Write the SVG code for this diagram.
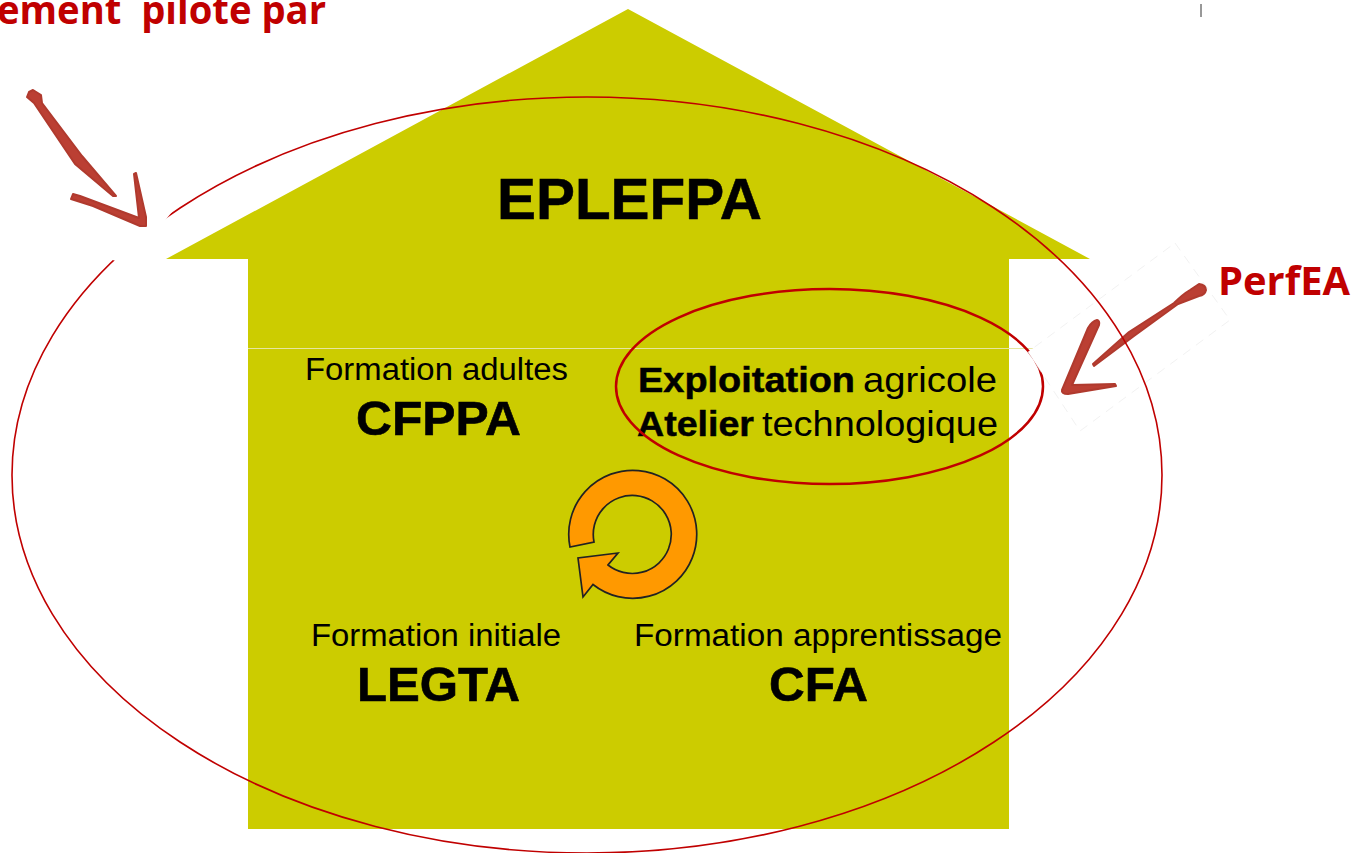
<svg xmlns="http://www.w3.org/2000/svg" width="1353" height="853" viewBox="0 0 1353 853">
<style>
.h{font-family:"Liberation Sans",Arial,sans-serif;fill:#000}
.b{font-weight:700;stroke:#000;stroke-width:.5}
.big{font-size:49px;font-weight:700;stroke:#000;stroke-width:.6}
.sm{font-size:31px}
.red{font-family:"Open Sans","Liberation Sans",sans-serif;font-weight:700;fill:#c00000;font-size:40px}
.ring{fill:none;stroke:#c00000}
.arrow{fill:#bb3f33;stroke:#b03a2e;stroke-width:2;stroke-linejoin:round}
.patch{fill:#fff;stroke:#e4e4e4;stroke-width:1;stroke-dasharray:9 7;stroke-opacity:.5}
</style>
<rect width="1353" height="853" fill="#fff"/>
<g id="house">
<path d="M628 9L1090 259H1009V829H248V259H166Z" fill="#cccc00"/>
<path d="M248 348.500H1040" stroke="#e6e6a0" stroke-width="1"/>
<text class="h b" x="497" y="219" font-size="57" textLength="265" lengthAdjust="spacingAndGlyphs">EPLEFPA</text>
</g>
<g id="cfppa">
<text class="h sm" x="305" y="380" textLength="263" lengthAdjust="spacingAndGlyphs">Formation adultes</text>
<text class="h big" x="356" y="435" textLength="165" lengthAdjust="spacingAndGlyphs">CFPPA</text>
</g>
<g id="exploitation">
<text class="h b" x="638" y="392" font-size="35" textLength="217" lengthAdjust="spacingAndGlyphs">Exploitation</text>
<text class="h" x="863" y="392" font-size="35" textLength="134" lengthAdjust="spacingAndGlyphs">agricole</text>
<text class="h b" x="637" y="436" font-size="35" textLength="117" lengthAdjust="spacingAndGlyphs">Atelier</text>
<text class="h" x="762" y="436" font-size="35" textLength="236" lengthAdjust="spacingAndGlyphs">technologique</text>
</g>
<g id="legta">
<text class="h sm" x="311" y="646" textLength="250" lengthAdjust="spacingAndGlyphs">Formation initiale</text>
<text class="h big" x="357" y="701" textLength="163" lengthAdjust="spacingAndGlyphs">LEGTA</text>
</g>
<g id="cfa">
<text class="h sm" x="634" y="646" textLength="368" lengthAdjust="spacingAndGlyphs">Formation apprentissage</text>
<text class="h big" x="769" y="701" textLength="99" lengthAdjust="spacingAndGlyphs">CFA</text>
</g>
<g id="cycle">
<path d="M570 547A64 64 0 1 1 593 584.500L583 597L578 558L618 553L608 565A39 39 0 1 0 594 542Z" fill="#ff9900" stroke="#222" stroke-width="1.700" stroke-linejoin="miter"/>
</g>
<g id="connectors">
<ellipse class="ring" cx="829.500" cy="386.500" rx="213.500" ry="97.500" stroke-width="2.500"/>
<polygon class="patch" points="1175,243 1230,320 1080,431 1028,352"/>
<path id="arrow-perfea" class="arrow" d="M1199 284Q1206 285 1206 290Q1205 295 1199 296L1178 304L1134 336L1094 366L1093 364L1129 332L1174 303Q1183 294 1190 290ZM1097 320Q1100 321 1099 325L1072 385L1115 384L1116 386L1068 394Q1061 394 1062 390L1088 328Q1092 321 1097 320Z"/>
<ellipse class="ring" cx="587" cy="475" rx="575" ry="378" stroke-width="1.600"/>
<polygon points="20,100 130,120 172,212 162,224 120,262 105,258" fill="#fff"/>
<path id="arrow-pilote" class="arrow" d="M33 90L41 95L42 103L82 156L116 196L113 196L75 164L34 103L27 97L29 92ZM73 194L80 196L139 218L134 174L136 173L146 217L146 226L140 226L93 206L71 199Z"/>
</g>
<g id="labels">
<text class="red" x="-3" y="24" textLength="329" lengthAdjust="spacingAndGlyphs" xml:space="preserve">ement  pilote par</text>
<text class="red" x="1218" y="295" textLength="132" lengthAdjust="spacingAndGlyphs">PerfEA</text>
<path d="M1201 4V17" stroke="#333" stroke-width="1"/>
</g>
</svg>
